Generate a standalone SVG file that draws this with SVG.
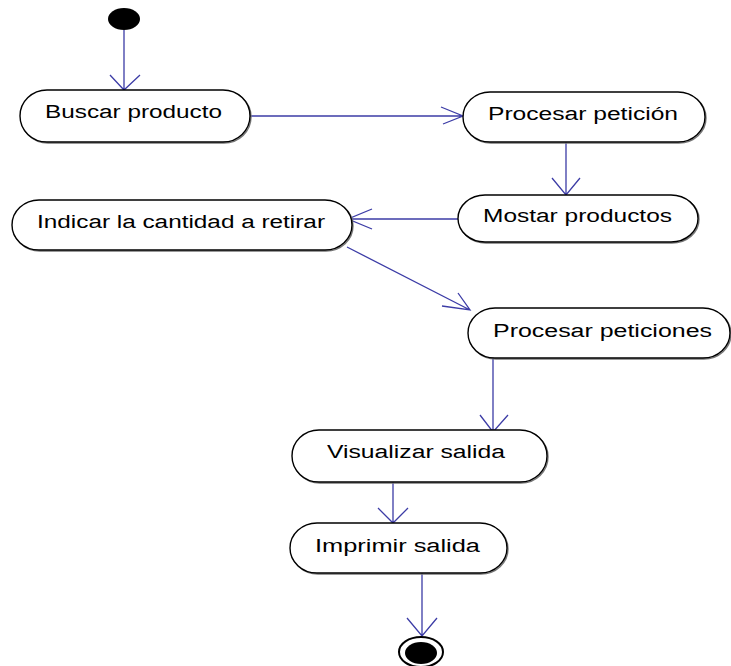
<svg xmlns="http://www.w3.org/2000/svg" width="731" height="666" viewBox="0 0 731 666">
<style>
.node{fill:#fff;stroke:#000;stroke-width:1.4}
.shadow{fill:none;stroke:#777;stroke-width:1.4}
.lbl{font-family:"Liberation Sans",Arial,sans-serif;font-size:18px;fill:#000}
.edge{fill:none;stroke:#3c3ca6;stroke-width:1.3}
</style>
<rect width="731" height="666" fill="#fff"/>
<g id="start"><ellipse cx="124" cy="19" rx="16" ry="11" fill="#000"/></g>
<g id="connectors">
<path class="edge" d="M124,30 L124,90 M110,75 L124,90 L140,75"/>
<path class="edge" d="M250,116 L463,116 M441,107 L463,116 L443,124"/>
<path class="edge" d="M566,142 L566,195 M552,178 L566,195 L580,178"/>
<path class="edge" d="M458,219 L348,219 M372,209 L348,219 L372,229"/>
<path class="edge" d="M347,247 L470,310 M458,293 L470,310 L442,306"/>
<path class="edge" d="M493,358 L493,432 M480,415 L493,432 L508,415"/>
<path class="edge" d="M393,482 L393,523 M378,508 L393,523 L408,508"/>
<path class="edge" d="M422,573 L422,636 M407,618 L422,636 L437,618"/>
</g>
<g id="buscar">
<rect class="shadow" x="21" y="91" width="230" height="52" rx="27" ry="26"/>
<rect class="node" x="20" y="90" width="230" height="52" rx="27" ry="26"/>
<text class="lbl" x="45" y="118" textLength="177" lengthAdjust="spacingAndGlyphs">Buscar producto</text>
</g>
<g id="procesar-peticion">
<rect class="shadow" x="464" y="93" width="242" height="50" rx="27" ry="25"/>
<rect class="node" x="463" y="92" width="242" height="50" rx="27" ry="25"/>
<text class="lbl" x="488" y="120" textLength="190" lengthAdjust="spacingAndGlyphs">Procesar petición</text>
</g>
<g id="mostrar">
<rect class="shadow" x="459" y="196" width="240" height="47" rx="27" ry="23.5"/>
<rect class="node" x="458" y="195" width="240" height="47" rx="27" ry="23.5"/>
<text class="lbl" x="483" y="222" textLength="189" lengthAdjust="spacingAndGlyphs">Mostar productos</text>
</g>
<g id="indicar">
<rect class="shadow" x="13" y="201" width="340" height="50" rx="27" ry="25"/>
<rect class="node" x="12" y="200" width="340" height="50" rx="27" ry="25"/>
<text class="lbl" x="37" y="228" textLength="288" lengthAdjust="spacingAndGlyphs">Indicar la cantidad a retirar</text>
</g>
<g id="procesar-peticiones">
<rect class="shadow" x="469" y="309" width="262" height="50" rx="27" ry="25"/>
<rect class="node" x="468" y="308" width="262" height="50" rx="27" ry="25"/>
<text class="lbl" x="493" y="337" textLength="219" lengthAdjust="spacingAndGlyphs">Procesar peticiones</text>
</g>
<g id="visualizar">
<rect class="shadow" x="293" y="431" width="255" height="52" rx="27" ry="26"/>
<rect class="node" x="292" y="430" width="255" height="52" rx="27" ry="26"/>
<text class="lbl" x="327" y="458" textLength="178" lengthAdjust="spacingAndGlyphs">Visualizar salida</text>
</g>
<g id="imprimir">
<rect class="shadow" x="291" y="524" width="217" height="50" rx="27" ry="25"/>
<rect class="node" x="290" y="523" width="217" height="50" rx="27" ry="25"/>
<text class="lbl" x="315" y="552" textLength="165" lengthAdjust="spacingAndGlyphs">Imprimir salida</text>
</g>
<g id="end">
<ellipse cx="421" cy="652" rx="22" ry="15" fill="#fff" stroke="#000" stroke-width="2"/>
<ellipse cx="421" cy="653" rx="16" ry="11" fill="#000"/>
</g>
</svg>
